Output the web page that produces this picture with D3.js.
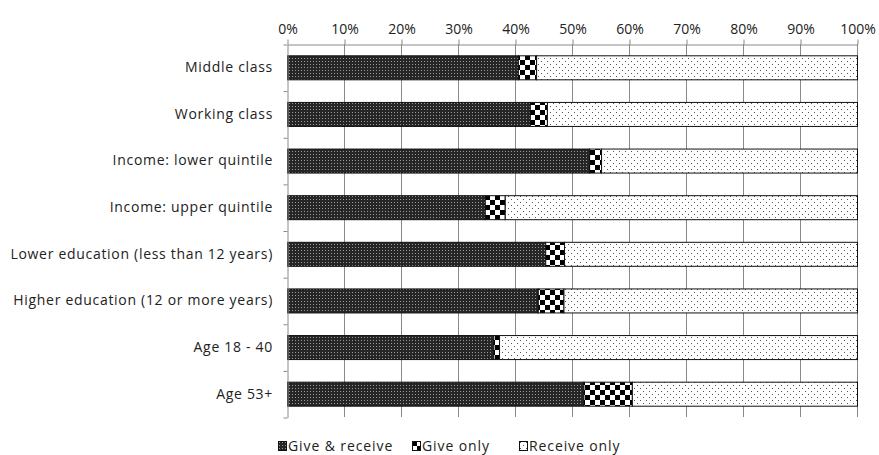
<!DOCTYPE html>
<html>
<head>
<meta charset="utf-8">
<script src="https://cdn.jsdelivr.net/npm/d3@7"></script>
<style>
  body { margin: 0; background: #fff; }
  text { font-family: "Open Sans", sans-serif; fill: #222; }
</style>
</head>
<body>
<div id="chart"></div>
<script>
// values (percent)
var categories = ["Middle class", "Working class", "Income: lower quintile", "Income: upper quintile",
  "Lower education (less than 12 years)", "Higher education (12 or more years)", "Age 18 - 40", "Age 53+"];
var giveReceive = [40.5, 42.6, 53.0, 34.7, 45.3, 44.0, 36.2, 52.0];
var giveOnly    = [3.2, 3.0, 2.1, 3.5, 3.3, 4.5, 1.0, 8.5];
var receiveOnly = [56.3, 54.4, 44.9, 61.8, 51.4, 51.5, 62.8, 39.5];
var seriesNames = ["Give & receive", "Give only", "Receive only"];
var tickValues  = [0, 10, 20, 30, 40, 50, 60, 70, 80, 90, 100];

var width = 879, height = 455;
var plotLeft = 287, plotRight = 857, plotTop = 44, plotBottom = 417;

var svg = d3.select("#chart").append("svg")
  .attr("width", width)
  .attr("height", height);

// fill patterns
var defs = svg.append("defs");
var p1 = defs.append("pattern").attr("id", "pGR").attr("patternUnits", "userSpaceOnUse")
  .attr("width", 3).attr("height", 3);
p1.append("rect").attr("width", 3).attr("height", 3).attr("fill", "#262626");
p1.append("rect").attr("x", 1).attr("y", 1).attr("width", 1).attr("height", 1).attr("fill", "#9a9a9a");

var p2 = defs.append("pattern").attr("id", "pGO").attr("patternUnits", "userSpaceOnUse")
  .attr("width", 10).attr("height", 10);
p2.append("rect").attr("width", 10).attr("height", 10).attr("fill", "#fff");
p2.append("rect").attr("width", 5).attr("height", 5).attr("fill", "#000");
p2.append("rect").attr("x", 5).attr("y", 5).attr("width", 5).attr("height", 5).attr("fill", "#000");

var p3 = defs.append("pattern").attr("id", "pRO").attr("patternUnits", "userSpaceOnUse")
  .attr("width", 6).attr("height", 6);
p3.append("rect").attr("width", 6).attr("height", 6).attr("fill", "#fff");
p3.append("rect").attr("x", 1).attr("y", 1).attr("width", 1).attr("height", 1).attr("fill", "#555");
p3.append("rect").attr("x", 4).attr("y", 4).attr("width", 1).attr("height", 1).attr("fill", "#555");

var fills = ["url(#pGR)", "url(#pGO)", "url(#pRO)"];

var x = d3.scaleLinear().domain([0, 100]).range([plotLeft, plotRight]);
var y = d3.scaleBand().domain(categories).range([plotTop, plotBottom])
  .paddingInner(0.485).paddingOuter(0.2425);
var yEdge = d3.scaleLinear().domain([0, categories.length]).range([plotTop, plotBottom]);

// gridlines
svg.append("g").selectAll("line")
  .data(tickValues.slice(1))
  .enter().append("line")
  .attr("x1", function (d) { return x(d) + 0.5; })
  .attr("x2", function (d) { return x(d) + 0.5; })
  .attr("y1", plotTop)
  .attr("y2", plotBottom)
  .style("stroke", "#8a8a8a");

// top axis
var xAxis = svg.append("g")
  .attr("transform", "translate(0.5," + (plotTop + 0.5) + ")")
  .call(d3.axisTop(x).tickValues(tickValues).tickSize(5).tickSizeOuter(0)
    .tickFormat(function (d) { return d + "%"; }));
xAxis.select(".domain").style("stroke", "#8a8a8a");
xAxis.selectAll(".tick line").style("stroke", "#8a8a8a");
xAxis.selectAll(".tick text")
  .attr("y", -11)
  .style("font-size", "14px")
  .style("font-family", "'Open Sans', sans-serif")
  .style("fill", "#222");

// stacked bars
var rows = categories.map(function (c, i) {
  return { cat: c, "Give & receive": giveReceive[i], "Give only": giveOnly[i], "Receive only": receiveOnly[i] };
});
var stacked = d3.stack().keys(seriesNames)(rows);

svg.append("g").selectAll("g")
  .data(stacked)
  .enter().append("g")
  .attr("fill", function (d, i) { return fills[i]; })
  .selectAll("rect")
  .data(function (d) { return d; })
  .enter().append("rect")
  .attr("x", function (d) { return x(d[0]) + 0.5; })
  .attr("y", function (d) { return y(d.data.cat) + 0.5; })
  .attr("width", function (d) { return x(d[1]) - x(d[0]); })
  .attr("height", y.bandwidth())
  .style("stroke", "#111")
  .style("stroke-width", 1);

// left axis
var yAxis = svg.append("g")
  .attr("transform", "translate(" + (plotLeft + 0.5) + ",0.5)")
  .call(d3.axisLeft(yEdge).ticks(categories.length).tickSize(4).tickSizeOuter(0).tickFormat(""));
yAxis.select(".domain").style("stroke", "#8a8a8a");
yAxis.selectAll(".tick line").style("stroke", "#8a8a8a");

// category labels
svg.append("g").selectAll("text")
  .data(categories)
  .enter().append("text")
  .attr("x", plotLeft - 14)
  .attr("y", function (d) { return y(d) + y.bandwidth() / 2; })
  .attr("dy", ".35em")
  .attr("text-anchor", "end")
  .style("font-size", "14px")
  .style("letter-spacing", "0.7px")
  .text(function (d) { return d; });

// legend
var legendX = [278, 412, 519];
var legend = svg.append("g").selectAll("g")
  .data(seriesNames)
  .enter().append("g")
  .attr("transform", function (d, i) { return "translate(" + legendX[i] + ",441)"; });
legend.append("rect")
  .attr("x", 0.5).attr("y", 0.5)
  .attr("width", 8).attr("height", 9)
  .attr("fill", function (d, i) { return fills[i]; })
  .style("stroke", "#111");
legend.append("text")
  .attr("x", 10)
  .attr("y", 5)
  .attr("dy", ".35em")
  .style("font-size", "14px")
  .style("letter-spacing", "0.9px")
  .text(function (d) { return d; });
</script>
</body>
</html>
